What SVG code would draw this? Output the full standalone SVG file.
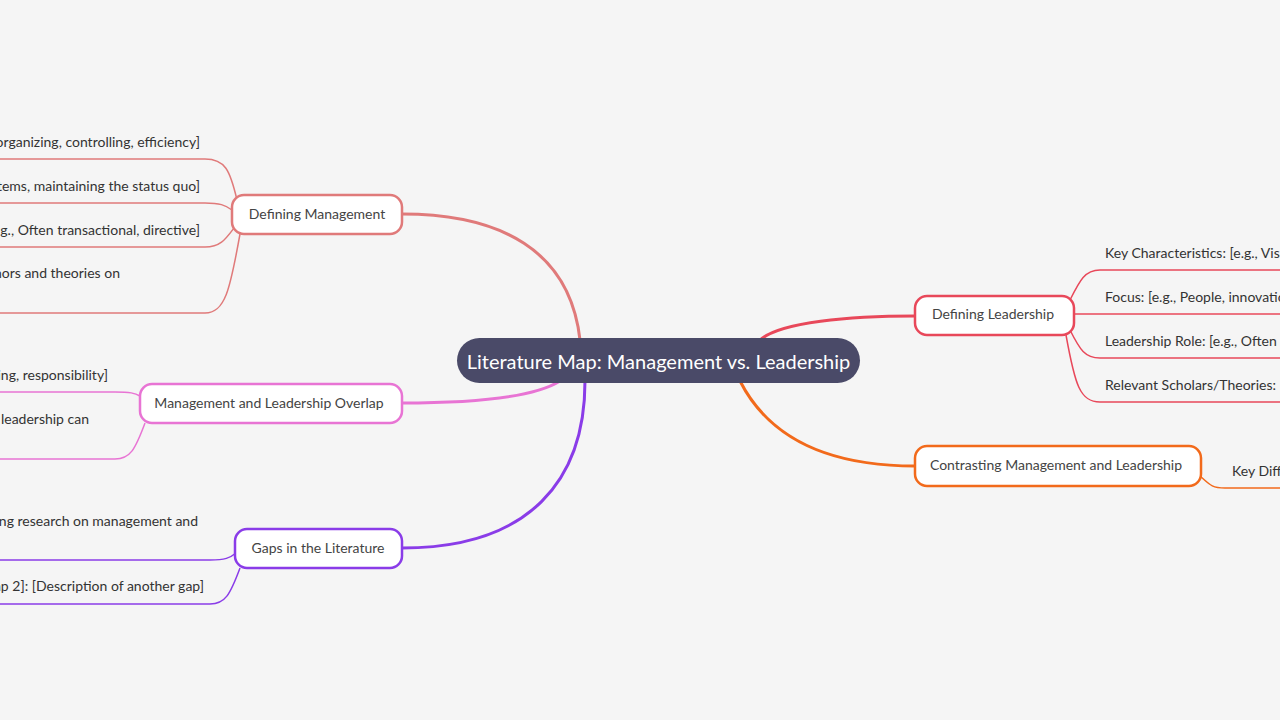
<svg xmlns="http://www.w3.org/2000/svg" width="1280" height="720" viewBox="0 0 1280 720">
<style>
text{font-family:Lato,"Noto Sans",sans-serif;fill:#333;font-size:14px}
.n{fill:#fff;stroke-width:2.5}
.c{fill:none;stroke-width:3}
.l{fill:none;stroke-width:1.5}
.t{text-anchor:middle;dominant-baseline:central;fill:#444}
</style>
<rect width="1280" height="720" fill="#f5f5f5"/>
<g id="connectors">
<path class="c" stroke="#e07a7a" d="M580,340 C570,250 500,214 402,214"/>
<path class="c" stroke="#e874d4" d="M560,381 C530,400 460,403 402,403"/>
<path class="c" stroke="#8a3ce8" d="M585,381 C585,480 530,548 402,548"/>
<path class="c" stroke="#e8485a" d="M760,340 C780,322 850,316 915,316"/>
<path class="c" stroke="#f26a1b" d="M740,381 C770,440 830,466 915,466"/>
<g stroke="#e07a7a">
<path class="l" d="M237,200 C230,170 225,159 205,159 H0"/>
<path class="l" d="M232,210 C225,205 220,203 205,203 H0"/>
<path class="l" d="M234,228 C225,240 220,247 205,247 H0"/>
<path class="l" d="M240,234 C230,290 225,313 205,313 H0"/>
</g>
<g stroke="#e874d4">
<path class="l" d="M140,396 C135,393 130,392 115,392 H0"/>
<path class="l" d="M145,423 C135,450 130,459 115,459 H0"/>
</g>
<g stroke="#8a3ce8">
<path class="l" d="M236,553 C230,558 225,560 210,560 H0"/>
<path class="l" d="M240,568 C230,595 225,604 210,604 H0"/>
</g>
<g stroke="#e8485a">
<path class="l" d="M1070,300 C1080,280 1085,270 1100,270 H1280"/>
<path class="l" d="M1074,314 H1280"/>
<path class="l" d="M1070,330 C1080,350 1085,358 1100,358 H1280"/>
<path class="l" d="M1066,335 C1075,385 1080,402 1100,402 H1280"/>
</g>
<path class="l" stroke="#f26a1b" d="M1200,476 C1210,485 1212,488 1225,488 H1280"/>
</g>
<g id="central"><rect x="457" y="338" width="403" height="45" rx="22.5" fill="#4a4a68"/><text class="t" x="658.5" y="360.5" style="fill:#fff;font-size:20px">Literature Map: Management vs. Leadership</text></g>
<g id="defining-management"><rect class="n" stroke="#e07a7a" x="232" y="195" width="170" height="39" rx="12"/><text class="t" x="317" y="213">Defining Management</text></g>
<g id="overlap"><rect class="n" stroke="#e874d4" x="140" y="384" width="262" height="39" rx="12"/><text class="t" x="269" y="402">Management and Leadership Overlap</text></g>
<g id="gaps"><rect class="n" stroke="#8a3ce8" x="235" y="529" width="167" height="39" rx="12"/><text class="t" x="318" y="547">Gaps in the Literature</text></g>
<g id="defining-leadership"><rect class="n" stroke="#e8485a" x="915" y="296" width="159" height="39" rx="12"/><text class="t" x="993" y="313">Defining Leadership</text></g>
<g id="contrasting"><rect class="n" stroke="#f26a1b" x="915" y="446" width="286" height="40" rx="12"/><text class="t" x="1056" y="464">Contrasting Management and Leadership</text></g>
<g id="leaves" style="text-anchor:end">
<text x="200" y="147">organizing, controlling, efficiency]</text>
<text x="200" y="191">tems, maintaining the status quo]</text>
<text x="200" y="235">e.g., Often transactional, directive]</text>
<text x="120" y="278">hors and theories on</text>
<text x="108" y="380">ing, responsibility]</text>
<text x="89" y="424">leadership can</text>
<text x="198" y="526">ing research on management and</text>
<text x="204" y="591">ap 2]: [Description of another gap]</text>
</g>
<g id="leaves-right">
<text x="1105" y="258">Key Characteristics: [e.g., Visio</text>
<text x="1105" y="302">Focus: [e.g., People, innovatio</text>
<text x="1105" y="346">Leadership Role: [e.g., Often t</text>
<text x="1105" y="390">Relevant Scholars/Theories: [</text>
<text x="1232" y="476">Key Diffe</text>
</g>
</svg>
